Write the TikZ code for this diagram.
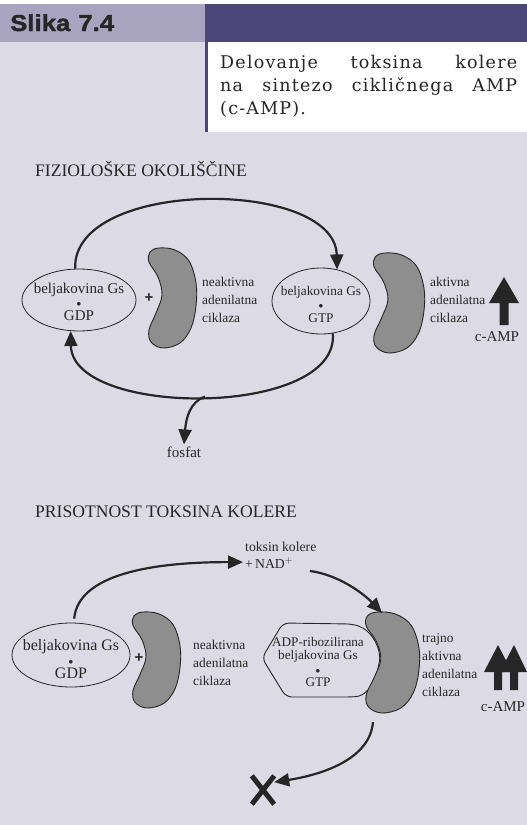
\documentclass[tikz,border=0pt]{standalone}
\usepackage{fontspec}
\usetikzlibrary{shapes.geometric,arrows.meta}
\setmainfont{Liberation Serif}
\newfontfamily\headfont{Liberation Sans}[UprightFont=* Bold, FakeBold=1.6, FakeStretch=1.12]
\newfontfamily\plusfont{Liberation Sans}[UprightFont=* Bold]
\newfontfamily\capfont{DejaVu Serif}[LetterSpace=7]
\definecolor{lav}{HTML}{DCDAE5}
\definecolor{hdrlight}{HTML}{A8A4BF}
\definecolor{hdrdark}{HTML}{4D4779}
\definecolor{ink}{HTML}{262626}
\definecolor{beanfill}{HTML}{8E8E8E}
\newcommand\gsdot{{\fontsize{9bp}{9bp}\selectfont$\bullet$}}
\tikzset{
  conn/.style={draw=ink, line width=2.2bp, -{Triangle[length=15bp,width=13bp]}},
  gsell/.style={ellipse, draw=ink, line width=0.8bp, inner sep=0pt},
  gstext/.style={align=center, text=ink, inner sep=0pt},
  lbl/.style={align=left, text=ink, inner sep=0pt, anchor=north west,
    font=\fontsize{13.4bp}{18.3bp}\selectfont},
  sectitle/.style={text=ink, inner sep=0pt, anchor=base west,
    font=\fontsize{17.6bp}{20bp}\selectfont},
  capline/.style={text=ink, inner sep=0pt, anchor=base west,
    font=\capfont\fontsize{17.5bp}{23bp}\selectfont},
  plussign/.style={text=ink, inner sep=0pt, font=\plusfont\fontsize{15bp}{15bp}\selectfont},
  pics/kidney/.style={code={
    \draw[line width=0.9bp, draw=ink, fill=beanfill]
      plot[smooth cycle, tension=0.6] coordinates {
        (12,0) (28,2) (42,13) (49,35) (49,58) (44,80) (33,95) (16,100)
        (4,94) (2,82) (9,65) (15,47) (11,29) (2,14) (3,4)};
    \coordinate (-top) at (16,1);
    \coordinate (-below) at (8,109);
  }}
}
\begin{document}
\begin{tikzpicture}[x=1bp,y=-1bp]
\useasboundingbox (0,0) rectangle (527,825);
% page background, header band and caption box
\fill[lav] (0,0) rectangle (527,825);
\fill[white] (0,0) rectangle (527,4);
\fill[hdrlight] (0,4) rectangle (205,42);
\fill[hdrdark] (205,4) rectangle (527,42);
\fill[white] (207.5,42) rectangle (527,132);
\fill[hdrdark] (205,42) rectangle (207.5,132);

\node[text=ink, inner sep=0pt, anchor=base west,
  font=\headfont\fontsize{23bp}{23bp}\selectfont] (hdr) at (10,31) {Slika\hspace{8bp}7.4};

\node[capline] (cap1) at (220,68) {\hbox to 297bp{Delovanje\hfil toksina\hfil kolere}};
\node[capline] (cap2) at (220,91) {\hbox to 297bp{na\hfil sintezo\hfil cikličnega\hfil AMP}};
\node[capline] (cap3) at (220,114) {(c-AMP).};

% ---------- physiological conditions ----------
\node[sectitle] (t1) at (35,176) {FIZIOLOŠKE OKOLIŠČINE};

\node[gsell, minimum width=114bp, minimum height=62bp] (gdp1) at (79,300) {};
\node[gstext, font=\fontsize{15bp}{13.5bp}\selectfont] (gdp1t) at ([yshift=-1.4bp]gdp1.center) {beljakovina Gs\\\gsdot\\GDP};
\node[plussign] (plus1) at (149,298) {+};
\pic (k1) at (147,248) {kidney};
\node[lbl] (lab1) at (202,276.8) {neaktivna\\adenilatna\\ciklaza};

\node[gsell, minimum width=98bp, minimum height=66bp] (gtp1) at (321,301) {};
\node[gstext, font=\fontsize{13.3bp}{13.5bp}\selectfont] (gtp1t) at ([yshift=-3bp]gtp1.center) {beljakovina Gs\\\gsdot\\GTP};
\pic[xscale=1.06] (k2) at (372,253) {kidney};
\node[lbl] (lab2) at (430,276.8) {aktivna\\adenilatna\\ciklaza};

\fill[ink] (504,277) -- (519,303) -- (508.5,303) -- (508.5,325) -- (499.5,325)
  -- (499.5,303) -- (489,303) -- cycle;
\node[text=ink, inner sep=0pt, font=\fontsize{15bp}{15bp}\selectfont] (camp1) at (497,337) {c-AMP};

\node[text=ink, inner sep=2bp, font=\fontsize{15bp}{15bp}\selectfont] (fosfat) at (184,452) {fosfat};

\draw[conn] (gdp1.97) .. controls (72,178) and (335,178) .. (gtp1.63);
\draw[conn] (gtp1.-70) .. controls (340,418) and (72,418) .. (gdp1.-105)
  coordinate[pos=0.5] (a2mid);
\draw[conn] (a2mid) .. controls (190,402) and (186,418) .. (fosfat.north);

% ---------- in presence of cholera toxin ----------
\node[sectitle] (t2) at (35,517) {PRISOTNOST TOKSINA KOLERE};

\node[text=ink, align=left, anchor=north west, inner sep=2bp,
  font=\fontsize{13.7bp}{17bp}\selectfont] (tox) at (243,540) {toksin kolere\\+\,NAD$^{+}$};

\node[gsell, minimum width=118bp, minimum height=64bp] (gdp2) at (71,655) {};
\node[gstext, font=\fontsize{16bp}{14bp}\selectfont] (gdp2t) at ([yshift=-4.5bp]gdp2.center) {beljakovina Gs\\\gsdot\\GDP};
\node[plussign] (plus2) at (139,658) {+};
\pic[yscale=0.96] (k3) at (131,612) {kidney};
\node[lbl] (lab3) at (193,639.8) {neaktivna\\adenilatna\\ciklaza};

\draw[ink, line width=0.9bp, rounded corners=6bp]
  (262,658) -- (283,623) -- (352,624)
  .. controls (372,630) and (382,650) .. (378,668)
  .. controls (374,685) and (365,696) .. (350,697)
  -- (286,697) -- cycle;
\node[gstext, font=\fontsize{13.2bp}{13.5bp}\selectfont] (adp) at (318,662) {ADP-ribozilirana\\beljakovina Gs\\\gsdot\\GTP};
\pic[xscale=1.12, yscale=1.01] (k4) at (364,612) {kidney};
\node[lbl] (lab4) at (422,633) {trajno\\aktivna\\adenilatna\\ciklaza};

\fill[ink] (498,645) -- (512,672) -- (502,672) -- (502,690) -- (494,690)
  -- (494,672) -- (484,672) -- cycle;
\fill[ink] (514,645) -- (527,672) -- (518,672) -- (518,690) -- (510,690)
  -- (510,672) -- (500,672) -- cycle;
\node[text=ink, inner sep=0pt, font=\fontsize{15bp}{15bp}\selectfont] (camp2) at (503,707) {c-AMP};

\node[minimum width=22bp, minimum height=28bp, inner sep=0pt] (stop) at (263,790) {};
\draw[ink, line width=5bp] (stop.north west) -- (stop.south east)
  (stop.north east) -- (stop.south west);

\draw[conn, shorten <=4bp] (gdp2.85) .. controls (78,575) and (150,562) .. (tox.190);
\draw[conn] (tox.-28) .. controls (340,575) and (365,595) .. (k4-top);
\draw[conn] (k4-below) .. controls (370,760) and (320,775) .. (stop.35);
\end{tikzpicture}
\end{document}
